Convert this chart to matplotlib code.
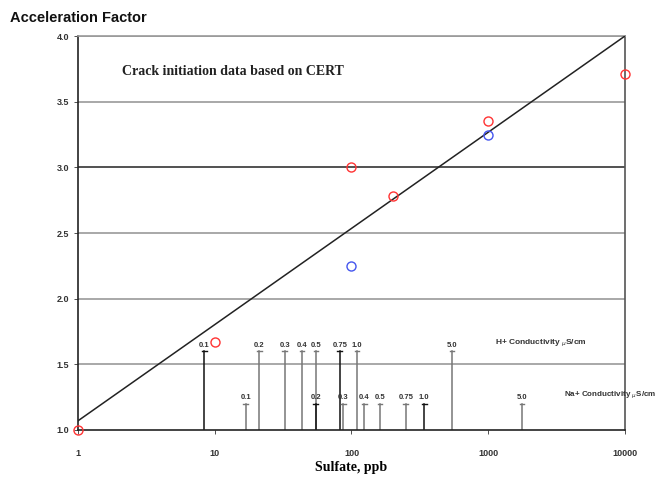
import matplotlib.pyplot as plt
import numpy as np

# measured points (sulfate ppb, acceleration factor)
red_x = [1, 10, 100, 200, 1000, 10000]
red_y = [1.0, 1.67, 3.0, 2.78, 3.35, 3.71]
blue_x = [100, 1000]
blue_y = [2.25, 3.25]

# fitted trend line end points
fit_x = [1, 10000]
fit_y = [1.07, 4.0]

# conductivity scales (label, sulfate ppb)
h_labels = ['0.1', '0.2', '0.3', '0.4', '0.5', '0.75', '1.0', '5.0']
h_sulfate = [8.4, 21.2, 32.6, 43.5, 55.0, 82.0, 110, 543]
h_top = 1.6
h_colors = ['#111111', '#777777', '#777777', '#777777', '#777777', '#111111', '#777777', '#777777']

na_labels = ['0.1', '0.2', '0.3', '0.4', '0.5', '0.75', '1.0', '5.0']
na_sulfate = [16.9, 54.7, 87.1, 124, 161.5, 250, 341, 1765]
na_top = 1.2
na_colors = ['#777777', '#111111', '#777777', '#777777', '#777777', '#777777', '#111111', '#777777']

yticks = [1.0, 1.5, 2.0, 2.5, 3.0, 3.5, 4.0]
xticks = [1, 10, 100, 1000, 10000]


def main():
    fig = plt.figure(figsize=(6.61, 4.79), dpi=100)
    ax = fig.add_axes([0.118, 0.1023, 0.8275, 0.8225])
    ax.set_xscale('log')
    ax.set_xlim(1, 10000)
    ax.set_ylim(1.0, 4.0)

    # horizontal grid
    for y in yticks[1:]:
        c = '#333333' if y == 3.0 else '#999999'
        ax.axhline(y, color=c, lw=1.2, zorder=1)

    # trend line
    ax.plot(fit_x, fit_y, color='#222222', lw=1.1, zorder=3)

    draw_stems(ax, h_sulfate, h_top, h_labels, h_colors)
    draw_stems(ax, na_sulfate, na_top, na_labels, na_colors)

    ax.plot(red_x, red_y, 'o', ms=6.5, mfc='none', mec='#ff3333', mew=1.0,
            clip_on=False, zorder=5)
    ax.plot(blue_x, blue_y, 'o', ms=6.5, mfc='none', mec='#4455ee', mew=1.0,
            clip_on=False, zorder=5)

    ax.text(1120, h_top + 0.02, 'H+ Conductivity $_{\\mu}$S/cm', fontsize=6,
            family='Liberation Sans', fontweight='bold', color='#333333',
            ha='left', va='bottom')
    ax.text(3600, na_top + 0.02, 'Na+ Conductivity $_{\\mu}$S/cm', fontsize=5.8,
            family='Liberation Sans', fontweight='bold', color='#333333',
            ha='left', va='bottom', clip_on=False)

    ax.text(2.1, 3.7, 'Crack initiation data based on CERT', fontsize=10,
            family='Liberation Serif', fontweight='bold', color='#222222')

    # axes styling
    ax.spines['top'].set_color('#999999')
    ax.spines['left'].set_color('#222222')
    ax.spines['bottom'].set_color('#222222')
    ax.spines['right'].set_color('#555555')
    for s in ax.spines.values():
        s.set_linewidth(1.2)
    ax.set_yticks(yticks)
    ax.set_yticklabels(['%.1f' % y for y in yticks])
    ax.set_xticks(xticks)
    ax.set_xticklabels([str(x) for x in xticks])
    ax.minorticks_off()
    ax.tick_params(axis='both', labelsize=6.5, colors='#333333', length=3,
                   width=0.6)
    ax.tick_params(axis='x', pad=11)
    for lab in ax.get_xticklabels() + ax.get_yticklabels():
        lab.set_family('Liberation Sans')
        lab.set_fontweight('bold')

    ax.set_xlabel('Sulfate, ppb', family='Liberation Serif', fontweight='bold',
                  fontsize=10, labelpad=2)
    fig.text(0.015, 0.955, 'Acceleration Factor', family='Liberation Sans',
             fontweight='bold', fontsize=10.5, color='#111111')

    fig.savefig('out.png', dpi=100)


def draw_stems(ax, xs, top, labels, colors):
    for x, lab, c in zip(xs, labels, colors):
        ax.plot([x, x], [1.0, top], color=c, lw=1.1, zorder=2)
        ax.plot([x * 0.96, x * 1.04], [top, top], color=c, lw=1.0, zorder=2)
        ax.text(x, top + 0.02, lab, fontsize=5.5, family='Liberation Sans',
                fontweight='bold', color='#333333', ha='center', va='bottom')


main()
